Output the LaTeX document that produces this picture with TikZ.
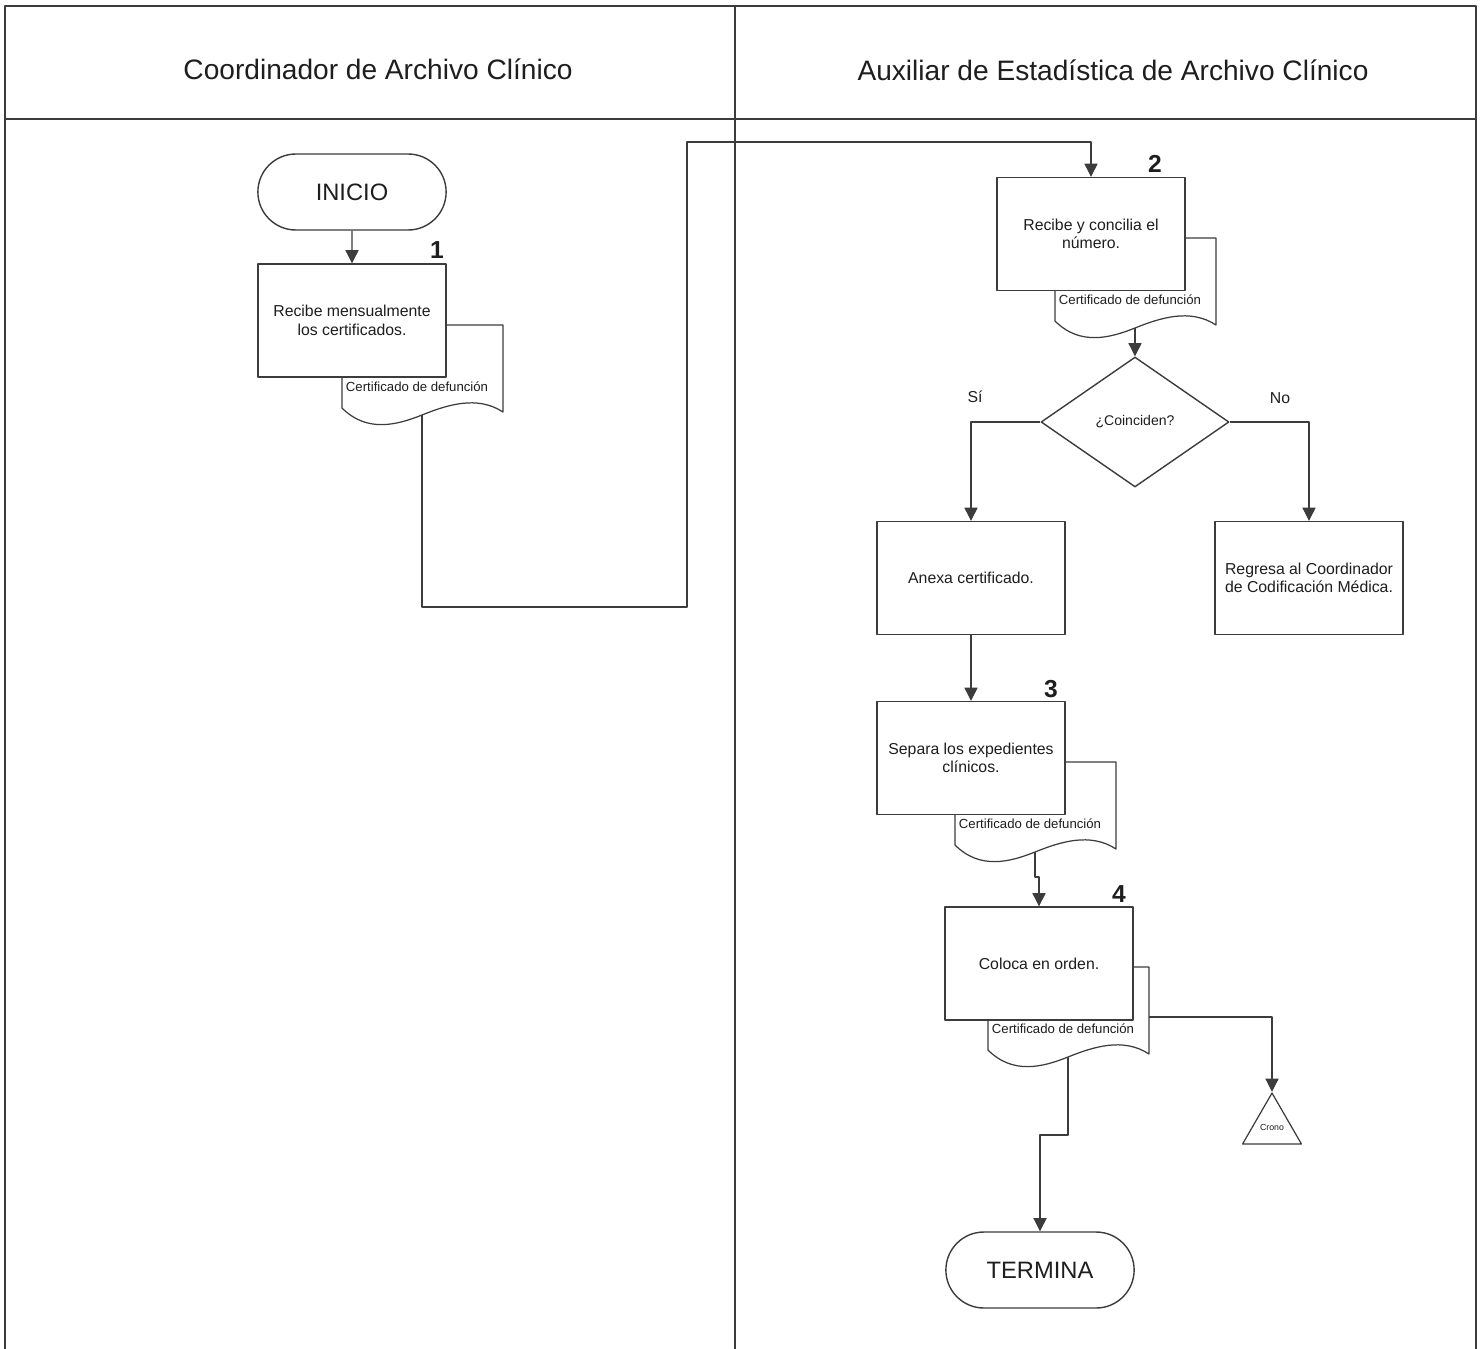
\documentclass[tikz,border=0pt]{standalone}
\usepackage{fontspec}
\setmainfont{Liberation Sans}
\usepackage{tikz}
\usetikzlibrary{shapes.geometric, shapes.misc, arrows.meta, positioning, calc}
\definecolor{lineclr}{RGB}{60,60,60}
\definecolor{textclr}{RGB}{30,30,30}

\tikzset{
  doctext/.style={font=\fontsize{7.5}{9}\selectfont, text=textclr, inner sep=0pt},
  certdoc/.pic={
    \draw[lineclr, fill=white, line width=0.7pt] (0,0) -- (161,0) -- (161,87)
      .. controls (135,70) and (105,80) .. (80,90)
      .. controls (55,100) and (25,108) .. (0,83) -- cycle;
    \node[doctext] at (75,62) {Certificado de defunción};
    \coordinate (-out) at (80,90);
    \coordinate (-side) at (161,50);
  }
}

\begin{document}
\begin{tikzpicture}[x=0.02cm, y=-0.02cm, line join=round,
  flow/.style={draw=lineclr, line width=0.6pt, -{Triangle[width=7.5pt,length=7.5pt]}},
  stepbox/.style={draw=lineclr, fill=white, line width=0.8pt, minimum width=3.76cm,
    minimum height=2.26cm, align=center, text=textclr, font=\fontsize{9}{10.5}\selectfont},
  term/.style={rounded rectangle, draw=lineclr, fill=white, line width=0.8pt,
    minimum width=4cm, minimum height=1.52cm, text=textclr, font=\fontsize{13.5}{16}\selectfont},
  decide/.style={diamond, draw=lineclr, fill=white, line width=0.8pt, inner sep=0pt,
    minimum width=3.76cm, minimum height=2.6cm, text=textclr, font=\fontsize{8}{10}\selectfont},
  stepnum/.style={font=\fontsize{14}{16}\selectfont\bfseries, text=textclr},
  lanehead/.style={font=\fontsize{16}{19}\selectfont, text=textclr},
  branch/.style={font=\fontsize{9}{11}\selectfont, text=textclr}]
\useasboundingbox (0,0) rectangle (1481,1349);

% lanes
\draw[lineclr, line width=1.1pt] (5,1349) -- (5,6) -- (1476,6) -- (1476,1349);
\draw[lineclr, line width=1.1pt] (5,119) -- (1476,119);
\draw[lineclr, line width=0.8pt] (735,6) -- (735,1349);
\node[lanehead] (lane1) at (378,69) {Coordinador de Archivo Clínico};
\node[lanehead] (lane2) at (1113,70) {Auxiliar de Estadística de Archivo Clínico};

% documents
\pic (d1) at (342,325) {certdoc};
\pic (d2) at (1055,238) {certdoc};
\pic (d3) at (955,762) {certdoc};
\pic (d4) at (988,967) {certdoc};

% steps
\node[term] (inicio) at (352,192) {INICIO};
\node[stepbox] (box1) at (352,320.5) {Recibe mensualmente\\los certificados.};
\node[stepnum] (n1) at (437,250) {1};
\node[stepbox] (box2) at (1091,234) {Recibe y concilia el\\número.};
\node[stepnum] (n2) at (1155,164) {2};
\node[decide] (dec) at (1135,422) {¿Coinciden?};
\node[branch] (si) at (975,397) {Sí};
\node[branch] (no) at (1280,398) {No};
\node[stepbox] (anexa) at (971,578) {Anexa certificado.};
\node[stepbox] (regresa) at (1309,578) {Regresa al Coordinador\\de Codificación Médica.};
\node[stepbox] (box3) at (971,758) {Separa los expedientes\\clínicos.};
\node[stepnum] (n3) at (1051,689) {3};
\node[stepbox] (box4) at (1039,963.5) {Coloca en orden.};
\node[stepnum] (n4) at (1119,894) {4};
\node[regular polygon, regular polygon sides=3, draw=lineclr, fill=white, line width=0.7pt,
  minimum size=1.36cm, inner sep=0pt, text=textclr, font=\fontsize{5}{6}\selectfont] (crono) at (1272,1127) {Crono};
\node[term] (termina) at (1040,1270) {TERMINA};

% connectors
\draw[flow] (inicio) -- (box1);
\draw[flow] (d1-out) |- (687,607) -- (687,142) -| (box2);
\draw[flow] (d2-out) -- (dec);
\draw[flow] (dec.west) -| (anexa);
\draw[flow] (dec.east) -| (regresa);
\draw[flow] (anexa) -- (box3);
\draw[flow] (d3-out) -- ++(0,25) -| (box4);
\draw[flow] (d4-side) -| (crono.corner 1);
\draw[flow] (d4-out) -- ++(0,78) -| (termina);
\end{tikzpicture}
\end{document}
